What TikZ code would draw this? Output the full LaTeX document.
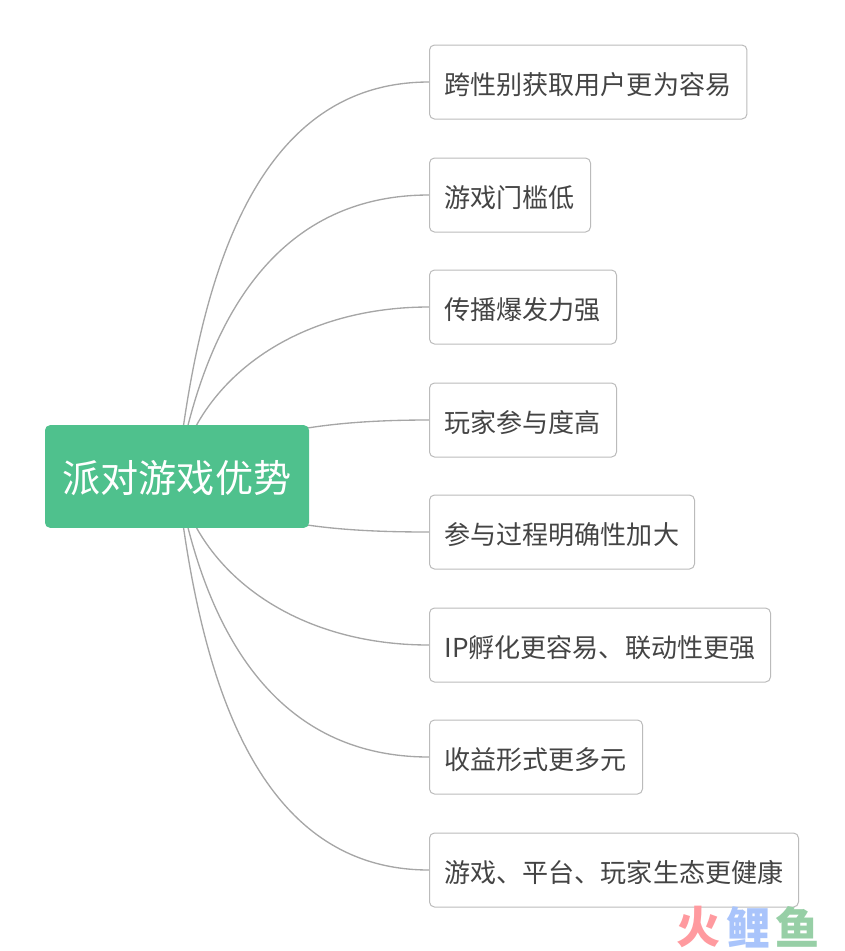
\documentclass[tikz,border=0pt]{standalone}
\usepackage{fontspec}
\usetikzlibrary{backgrounds}
\setmainfont{Noto Sans CJK SC}
\definecolor{rootgreen}{HTML}{4FC18D}
\definecolor{leafline}{HTML}{BBBBBB}
\definecolor{linkline}{HTML}{A6A6A6}
\definecolor{leaftext}{HTML}{444444}
\definecolor{wmred}{HTML}{FF9A9F}
\definecolor{wmblue}{HTML}{A9C4FB}
\definecolor{wmgreen}{HTML}{97CFA6}
\tikzset{
  x=0.75pt,y=-0.75pt,
  rootbox/.style={fill=rootgreen,rounded corners=3.75pt,text=white,font=\fontsize{28.6pt}{30pt}\selectfont,
    minimum width=198pt,inner sep=0pt,anchor=center,text height=50.8pt,text depth=26.2pt},
  leafbox/.style={draw=leafline,line width=0.75pt,fill=white,rounded corners=3.75pt,text=leaftext,
    font=\fontsize{19.55pt}{21pt}\selectfont,anchor=west,inner xsep=11.25pt,inner ysep=0pt,
    text height=37.4pt,text depth=18.1pt,align=left},
  link/.style={draw=linkline,line width=1pt},
  wm/.style={font=\fontsize{33pt}{34pt}\bfseries\selectfont,inner sep=0pt,anchor=center}
}
\begin{document}
\begin{tikzpicture}
\useasboundingbox (0,0) rectangle (844,951);
\node[rootbox] (root) at (177,476.5) {派对游戏优势};
\node[leafbox,text width=215.6pt] (l1) at (429,82) {跨性别获取用户更为容易};
\node[leafbox,text width=98.25pt] (l2) at (429,195) {游戏门槛低};
\node[leafbox,text width=117.75pt] (l3) at (429,307) {传播爆发力强};
\node[leafbox,text width=117.75pt] (l4) at (429,420) {玩家参与度高};
\node[leafbox,text width=176.25pt] (l5) at (429,532) {参与过程明确性加大};
\node[leafbox,text width=233.25pt] (l6) at (429,645) {IP孵化更容易、联动性更强};
\node[leafbox,text width=137.25pt] (l7) at (429,757) {收益形式更多元};
\node[leafbox,text width=254.25pt] (l8) at (429,870) {游戏、平台、玩家生态更健康};
\begin{scope}[on background layer]
\draw[link] (root.center) .. controls (199,280) and (254,82) .. (l1.west);
\draw[link] (root.center) .. controls (203,330) and (270,195) .. (l2.west);
\draw[link] (root.center) .. controls (198,380) and (295,307) .. (l3.west);
\draw[link] (root.center) .. controls (240,431) and (330,420) .. (l4.west);
\draw[link] (root.center) .. controls (240,524) and (330,532) .. (l5.west);
\draw[link] (root.center) .. controls (198,573) and (295,645) .. (l6.west);
\draw[link] (root.center) .. controls (203,623) and (270,757) .. (l7.west);
\draw[link] (root.center) .. controls (199,673) and (254,870) .. (l8.west);
\end{scope}
\node[wm,text=wmred] (wm1) at (698,927) {火};
\node[wm,text=wmblue] (wm2) at (748,927) {鲤};
\node[wm,text=wmgreen] (wm3) at (797,927) {鱼};
\end{tikzpicture}
\end{document}
